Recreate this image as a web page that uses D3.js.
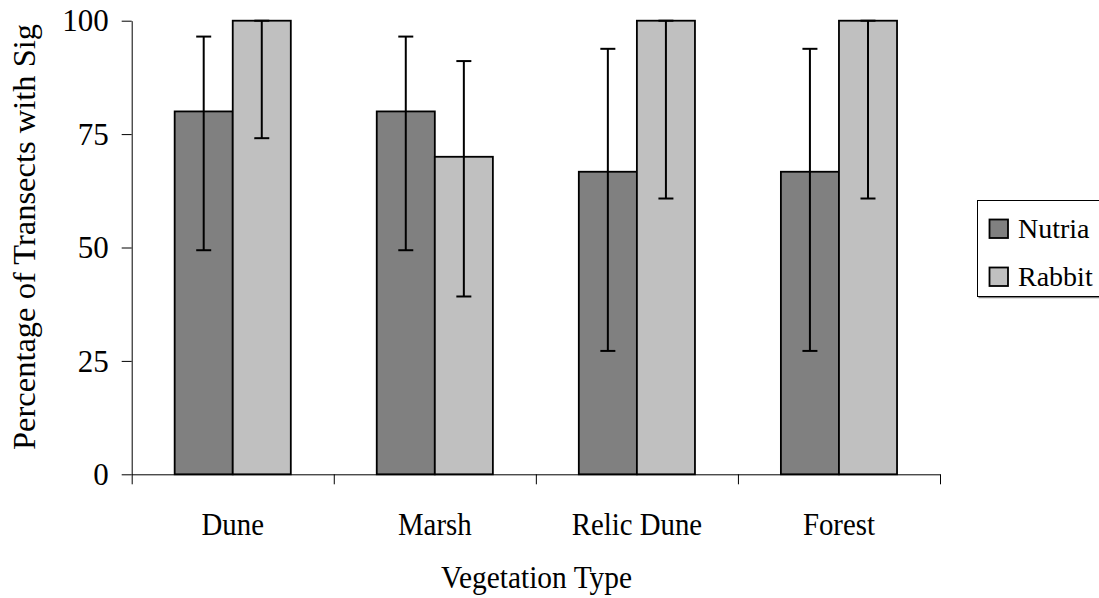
<!DOCTYPE html>
<html>
<head>
<meta charset="utf-8">
<script src="https://cdn.jsdelivr.net/npm/d3@7"></script>
<style>
  html, body { margin: 0; padding: 0; background: #fff; }
  svg { display: block; }
  text { font-family: "Liberation Serif", "Times New Roman", serif; fill: #000; }
</style>
</head>
<body>
<svg id="chart" width="1099" height="598"></svg>
<script>
// Vegetation types along the x axis
const categories = ["Dune", "Marsh", "Relic Dune", "Forest"];
const seriesNames = ["Nutria", "Rabbit"];

// Percentage of transects with sign, per species
const nutriaValues = [80, 80, 66.7, 66.7];
const rabbitValues = [100, 70, 100, 100];

// Error bar limits (lower, upper) per species
const nutriaLow  = [49.4, 49.4, 27.2, 27.2];
const nutriaHigh = [96.5, 96.5, 93.8, 93.8];
const rabbitLow  = [74.1, 39.2, 60.8, 60.8];
const rabbitHigh = [100, 91.1, 100, 100];

const yTicks = [0, 25, 50, 75, 100];

const colors = { Nutria: "#808080", Rabbit: "#c0c0c0" };

const svg = d3.select("#chart");

const plot = { left: 131.7, right: 940, top: 20.7, bottom: 474.3 };

const y = d3.scaleLinear().domain([0, 100]).range([plot.bottom, plot.top]);
const x = d3.scaleBand().domain(categories).range([plot.left, plot.right]).padding(0);
const xInner = d3.scaleBand().domain(seriesNames).range([0, x.bandwidth()])
  .paddingInner(0).paddingOuter(0.74);

const rows = categories.map((c, i) => ({
  cat: c,
  items: [
    { name: "Nutria", value: nutriaValues[i], lo: nutriaLow[i], hi: nutriaHigh[i] },
    { name: "Rabbit", value: rabbitValues[i], lo: rabbitLow[i], hi: rabbitHigh[i] }
  ]
}));

// Y axis
const yAxis = svg.append("g")
  .attr("transform", `translate(${plot.left},0)`)
  .call(d3.axisLeft(y).tickValues(yTicks).tickSize(10).tickPadding(13).tickSizeOuter(0));
yAxis.select(".domain").attr("stroke", "#000").attr("stroke-width", 1);
yAxis.selectAll(".tick line").attr("stroke", "#000").attr("stroke-width", 1);
yAxis.selectAll(".tick text")
  .attr("font-size", 31)
  .attr("dy", "0.33em")
  .style("font-family", "'Liberation Serif', 'Times New Roman', serif")
  .attr("fill", "#000");

// X axis line with ticks between categories
const xEdge = d3.scaleLinear().domain([0, categories.length]).range([plot.left, plot.right]);
const xAxis = svg.append("g")
  .attr("transform", `translate(0,${plot.bottom})`)
  .call(d3.axisBottom(xEdge).tickValues(d3.range(categories.length + 1))
    .tickSize(10).tickSizeOuter(0).tickFormat(""));
xAxis.select(".domain").attr("stroke", "#000").attr("stroke-width", 1);
xAxis.selectAll(".tick line").attr("stroke", "#000").attr("stroke-width", 1);

// Bars
const groups = svg.append("g").selectAll("g")
  .data(rows).join("g")
  .attr("transform", d => `translate(${x(d.cat)},0)`);

groups.selectAll("rect")
  .data(d => d.items).join("rect")
  .attr("x", d => xInner(d.name))
  .attr("y", d => y(d.value))
  .attr("width", xInner.bandwidth())
  .attr("height", d => y(0) - y(d.value))
  .attr("fill", d => colors[d.name])
  .attr("stroke", "#000")
  .attr("stroke-width", 1.8);

// Error bars
const capHalf = 7.5;
const err = groups.selectAll("g.err")
  .data(d => d.items).join("g")
  .attr("class", "err")
  .attr("transform", d => `translate(${xInner(d.name) + xInner.bandwidth() / 2},0)`)
  .attr("stroke", "#000")
  .attr("stroke-width", 2);
err.append("line").attr("x1", 0).attr("x2", 0)
  .attr("y1", d => y(d.lo)).attr("y2", d => y(d.hi));
err.append("line").attr("x1", -capHalf).attr("x2", capHalf)
  .attr("y1", d => y(d.hi)).attr("y2", d => y(d.hi));
err.append("line").attr("x1", -capHalf).attr("x2", capHalf)
  .attr("y1", d => y(d.lo)).attr("y2", d => y(d.lo));

// Category labels
svg.append("g").selectAll("text")
  .data(categories).join("text")
  .attr("transform", d => `translate(${x(d) + x.bandwidth() / 2},534.5) scale(0.93,1)`)
  .attr("text-anchor", "middle")
  .attr("font-size", 31)
  .text(d => d);

// Axis titles
svg.append("text")
  .attr("transform", "translate(536.5,588) scale(0.95,1)")
  .attr("text-anchor", "middle")
  .attr("font-size", 31)
  .text("Vegetation Type");

svg.append("text")
  .attr("transform", "translate(35,237) rotate(-90)")
  .attr("text-anchor", "middle")
  .attr("font-size", 32.5)
  .text("Percentage of Transects with Sig");

// Legend
const legend = svg.append("g");
legend.append("line")
  .attr("x1", 978.5).attr("x2", 1110)
  .attr("y1", 297.5).attr("y2", 297.5)
  .attr("stroke", "#808080").attr("stroke-width", 1.5);
legend.append("rect")
  .attr("x", 977.5).attr("y", 200.5)
  .attr("width", 140).attr("height", 96)
  .attr("fill", "#fff").attr("stroke", "#000").attr("stroke-width", 1);

const legendItems = legend.selectAll("g.item")
  .data(seriesNames).join("g")
  .attr("class", "item")
  .attr("transform", (d, i) => `translate(0,${i * 48})`);
legendItems.append("rect")
  .attr("x", 989.5).attr("y", 219.5)
  .attr("width", 18.5).attr("height", 18.5)
  .attr("fill", d => colors[d])
  .attr("stroke", "#000").attr("stroke-width", 1.8);
legendItems.append("text")
  .attr("x", 1018).attr("y", 237.5)
  .attr("font-size", 28)
  .text(d => d);
</script>
</body>
</html>
